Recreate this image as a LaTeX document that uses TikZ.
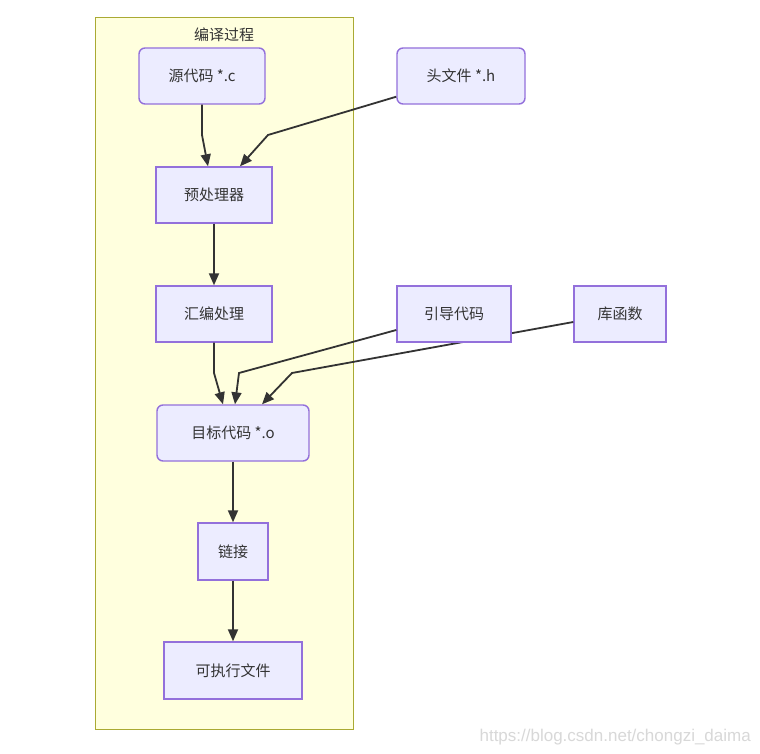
\documentclass[tikz,border=0pt]{standalone}
\usepackage{fontspec}
\setmainfont{Noto Sans CJK SC}
\newfontfamily\wmfont{Liberation Sans}
\usetikzlibrary{arrows.meta,calc}
\definecolor{nfill}{HTML}{ECECFF}
\definecolor{nborder}{HTML}{9370DB}
\definecolor{cfill}{HTML}{FFFFDE}
\definecolor{cborder}{HTML}{AAAA33}
\definecolor{txt}{HTML}{333333}
\definecolor{wm}{HTML}{D8D8D8}
\begin{document}
\begin{tikzpicture}[x=1pt,y=-1pt,
  every node/.style={font=\fontsize{15}{17}\selectfont, text=txt, inner sep=0pt},
  rbox/.style={draw=nborder, fill=nfill, line width=1.4pt, rounded corners=6pt},
  sbox/.style={draw=nborder, fill=nfill, line width=1.4pt},
  edge/.style={draw=txt, line width=1.8pt, -{Triangle[length=12pt,width=10pt]}}]
\useasboundingbox (0,0) rectangle (760,754);
\fill[white] (0,0) rectangle (760,754);
\node[draw=cborder, fill=cfill, line width=1.4pt, minimum width=258pt, minimum height=712pt, anchor=north west] (clu) at (95,17) {};
\node (title) at (224,35) {编译过程};
\coordinate (p1) at (202,135);
\coordinate (p2) at (268,135);
\coordinate (p3) at (214,373);
\coordinate (p4) at (239,373);
\coordinate (p5) at (292,373);
% nodes
\node[rbox, minimum width=126pt, minimum height=56pt] (src) at (202,76) {源代码 *.c};
\node[rbox, minimum width=128pt, minimum height=56pt] (hdr) at (461,76) {头文件 *.h};
\node[sbox, minimum width=116pt, minimum height=56pt] (pre) at (214,195) {预处理器};
\node[sbox, minimum width=116pt, minimum height=56pt] (asm) at (214,314) {汇编处理};
\node[rbox, minimum width=152pt, minimum height=56pt] (obj) at (233,433) {目标代码 *.o};
\node[sbox, minimum width=70pt, minimum height=57pt] (link) at (233,551.5) {链接};
\node[sbox, minimum width=138pt, minimum height=57pt] (exe) at (233,670.5) {可执行文件};
% library edge passes behind the boot node, so it is drawn before that node
\node[sbox, minimum width=92pt, minimum height=56pt] (lib) at (620,314) {库函数};
\draw[edge] ($(lib.west)+(0,8)$) -- (p5) -- ($(obj.north)+(29,0)$);
\node[sbox, minimum width=114pt, minimum height=56pt] (boot) at (454,314) {引导代码};
\draw[edge] (src.south) -- (p1) -- ($(pre.north)+(-6,0)$);
\draw[edge] ($(hdr.south west)+(0,-8)$) -- (p2) -- ($(pre.north)+(26,0)$);
\draw[edge] (pre.south) -- (asm.north);
\draw[edge] (asm.south) -- (p3) -- ($(obj.north)+(-10,0)$);
\draw[edge] ($(boot.west)+(0,16)$) -- (p4) -- ($(obj.north)+(2,0)$);
\draw[edge] (obj.south) -- (link.north);
\draw[edge] (link.south) -- (exe.north);
\node[text=wm, font=\wmfont\fontsize{17}{19}\selectfont, anchor=east] (wmk) at (751,737) {https://blog.csdn.net/chongzi\_daima};
\end{tikzpicture}
\end{document}
